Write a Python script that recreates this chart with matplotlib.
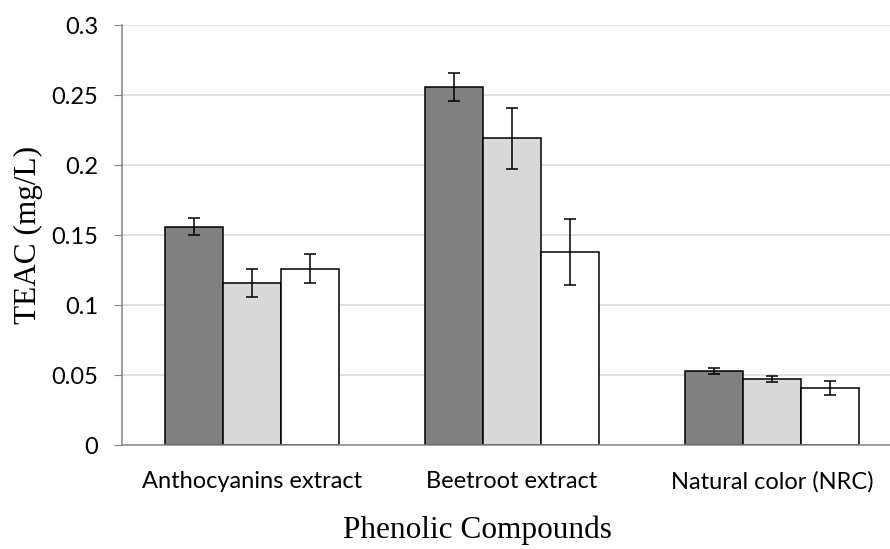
import matplotlib.pyplot as plt
import numpy as np

categories = ["Anthocyanins extract", "Beetroot extract", "Natural color (NRC)"]
series_a = [0.156, 0.2555, 0.053]
series_b = [0.1155, 0.219, 0.047]
series_c = [0.126, 0.138, 0.041]
err_a = [0.006, 0.0099, 0.0022]
err_b = [0.010, 0.022, 0.002]
err_c = [0.0105, 0.0235, 0.005]
y_ticks = [0, 0.05, 0.1, 0.15, 0.2, 0.25, 0.3]
y_tick_labels = ["0", "0.05", "0.1", "0.15", "0.2", "0.25", "0.3"]

fig = plt.figure(figsize=(8.9, 5.49), dpi=100)
ax = fig.add_axes([122 / 890, 104 / 549, 780 / 890, 420 / 549])

x = np.arange(len(categories))
w = 0.223
colors = ["#808080", "#d9d9d9", "#ffffff"]

for off, vals, errs, col in zip([-w, 0, w], [series_a, series_b, series_c],
                                [err_a, err_b, err_c], colors):
    ax.bar(x + off, vals, width=w, color=col, edgecolor="black",
           linewidth=1.1, zorder=2)
    ax.errorbar(x + off, vals, yerr=errs, fmt="none", ecolor="black",
                elinewidth=1.1, capsize=4.3, capthick=1.1, zorder=3)

ax.set_xlim(-0.5, 2.5)
ax.set_ylim(0, 0.3)
ax.set_yticks(y_ticks)
ax.set_yticklabels(y_tick_labels, fontfamily="Lato", fontsize=17)
ax.set_xticks(x)
ax.set_xticklabels(categories, fontfamily="Lato", fontsize=17)
ax.yaxis.grid(True, color="#d9d9d9", linewidth=1.1, zorder=0)
ax.set_axisbelow(True)

for s in ["top", "right"]:
    ax.spines[s].set_visible(False)
ax.spines["left"].set_color("#868686")
ax.spines["bottom"].set_color("#868686")
ax.spines["left"].set_linewidth(1.1)
ax.spines["bottom"].set_linewidth(1.1)
ax.tick_params(axis="y", length=6, color="#868686", pad=11)
ax.tick_params(axis="x", length=0, pad=19)

ax.set_ylabel("TEAC (mg/L)", fontfamily="Liberation Serif", fontsize=22.5, labelpad=6)
ax.set_xlabel("Phenolic Compounds", fontfamily="Liberation Serif", fontsize=22.5)
# label sits centred under the visible plot area
ax.xaxis.set_label_coords(0.456, -0.168)

fig.savefig("out.png", dpi=100)
